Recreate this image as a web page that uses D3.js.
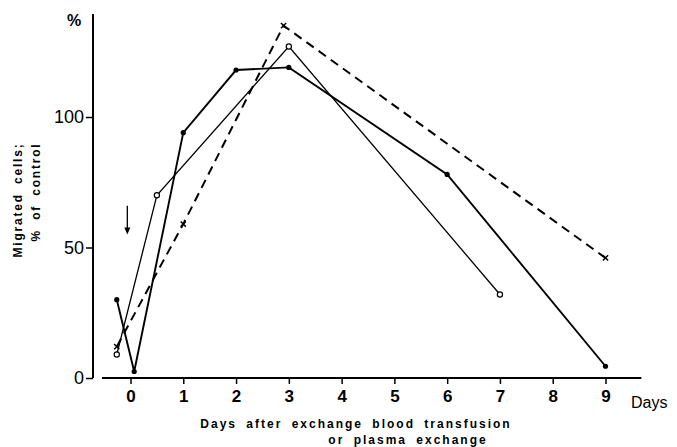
<!DOCTYPE html>
<html>
<head>
<meta charset="utf-8">
<script src="https://cdn.jsdelivr.net/npm/d3@7"></script>
<style>
  html, body { margin: 0; padding: 0; background: #fff; }
  svg { display: block; font-family: "Liberation Sans", Arial, sans-serif; }
</style>
</head>
<body>
<svg id="chart" width="677" height="447"></svg>
<script>
// data
const dayTicks = [0, 1, 2, 3, 4, 5, 6, 7, 8, 9];
const yTicks = [0, 50, 100];

// filled dots, solid line
const filledDays = [-0.26, 0.07, 1, 2, 3, 6, 9];
const filledValues = [30, 2.5, 94, 118, 119, 78, 4.5];

// open circles, thin solid line
const openDays = [-0.26, 0.5, 3, 7];
const openValues = [9, 70, 127, 32];

// crosses, dashed line
const crossDays = [-0.26, 1, 2.9, 9];
const crossValues = [12, 59, 135, 46];

// arrow marking the exchange
const arrowDay = -0.06;
const arrowFrom = 66;
const arrowTo = 55;

const svg = d3.select('#chart');

const x = d3.scaleLinear().domain([0, 9]).range([130.5, 605.5]);
const y = d3.scaleLinear().domain([0, 100]).range([378, 117]);

const zip = (xs, ys) => xs.map((d, i) => ({ day: d, value: ys[i] }));
const filled = zip(filledDays, filledValues);
const open = zip(openDays, openValues);
const cross = zip(crossDays, crossValues);

const line = d3.line().x(d => x(d.day)).y(d => y(d.value));

// axes
const xAxis = svg.append('g')
  .attr('transform', `translate(0,${y(0)})`)
  .call(d3.axisBottom(x).tickValues(dayTicks).tickFormat(d3.format('d')).tickSize(6).tickPadding(6).tickSizeOuter(0));
xAxis.select('.domain').remove();
xAxis.selectAll('line').attr('stroke', '#000').attr('stroke-width', 1.5);
xAxis.selectAll('text')
  .attr('font-family', '"Liberation Sans", Arial, sans-serif')
  .attr('font-size', 17).attr('font-weight', 'bold').attr('fill', '#000');

svg.append('line')
  .attr('x1', x(-0.54)).attr('x2', x(9.68))
  .attr('y1', y(0)).attr('y2', y(0))
  .attr('stroke', '#000').attr('stroke-width', 2);

const yAxis = svg.append('g')
  .attr('transform', 'translate(93,0)')
  .call(d3.axisLeft(y).tickValues(yTicks).tickSize(7).tickPadding(2).tickSizeOuter(0));
yAxis.select('.domain').remove();
yAxis.selectAll('line').attr('stroke', '#000').attr('stroke-width', 1.5);
yAxis.selectAll('text')
  .attr('font-family', '"Liberation Sans", Arial, sans-serif')
  .attr('font-size', 18).attr('fill', '#000');

svg.append('line')
  .attr('x1', 93).attr('x2', 93)
  .attr('y1', 14).attr('y2', y(0))
  .attr('stroke', '#000').attr('stroke-width', 2);

svg.append('text')
  .attr('x', 67).attr('y', 26)
  .attr('font-size', 16).attr('font-weight', 'bold')
  .text('%');

// labels
svg.append('text')
  .attr('x', 631).attr('y', 408)
  .attr('font-size', 16)
  .text('Days');

const title = svg.append('g')
  .attr('font-size', 12).attr('font-weight', 'bold')
  .attr('letter-spacing', 2).attr('word-spacing', 4)
  .attr('text-anchor', 'middle');
title.append('text').attr('x', 356).attr('y', 428).text('Days after exchange blood transfusion');
title.append('text').attr('x', 408).attr('y', 444).text('or plasma exchange');

const ylab = svg.append('g')
  .attr('font-size', 12).attr('font-weight', 'bold')
  .attr('letter-spacing', 1.8).attr('word-spacing', 4)
  .attr('text-anchor', 'middle');
ylab.append('text')
  .attr('transform', 'translate(22,200) rotate(-90)')
  .text('Migrated cells;');
ylab.append('text')
  .attr('transform', 'translate(40,192) rotate(-90)')
  .text('% of control');

// series lines
svg.append('path').datum(filled)
  .attr('d', line).attr('fill', 'none')
  .attr('stroke', '#000').attr('stroke-width', 1.9);

svg.append('path').datum(open)
  .attr('d', line).attr('fill', 'none')
  .attr('stroke', '#000').attr('stroke-width', 1.3);

svg.append('path').datum(cross)
  .attr('d', line).attr('fill', 'none')
  .attr('stroke', '#000').attr('stroke-width', 2)
  .attr('stroke-dasharray', '9,6');

// markers
svg.selectAll('.filled').data(filled).enter()
  .append('circle').attr('class', 'filled')
  .attr('cx', d => x(d.day)).attr('cy', d => y(d.value))
  .attr('r', 2.6).attr('fill', '#000');

svg.selectAll('.open').data(open).enter()
  .append('circle').attr('class', 'open')
  .attr('cx', d => x(d.day)).attr('cy', d => y(d.value))
  .attr('r', 2.6).attr('fill', '#fff')
  .attr('stroke', '#000').attr('stroke-width', 1.2);

const cs = 2.6;
svg.selectAll('.cross').data(cross).enter()
  .append('path').attr('class', 'cross')
  .attr('d', d => {
    const cx = x(d.day), cy = y(d.value);
    return `M${cx - cs},${cy - cs}L${cx + cs},${cy + cs}M${cx - cs},${cy + cs}L${cx + cs},${cy - cs}`;
  })
  .attr('stroke', '#000').attr('stroke-width', 1.5);

// arrow
const ax = x(arrowDay);
svg.append('line')
  .attr('x1', ax).attr('x2', ax)
  .attr('y1', y(arrowFrom)).attr('y2', y(arrowTo) - 4)
  .attr('stroke', '#000').attr('stroke-width', 1.3);
svg.append('path')
  .attr('d', `M${ax - 3},${y(arrowTo) - 7}L${ax + 3},${y(arrowTo) - 7}L${ax},${y(arrowTo)}Z`)
  .attr('fill', '#000');
</script>
</body>
</html>
